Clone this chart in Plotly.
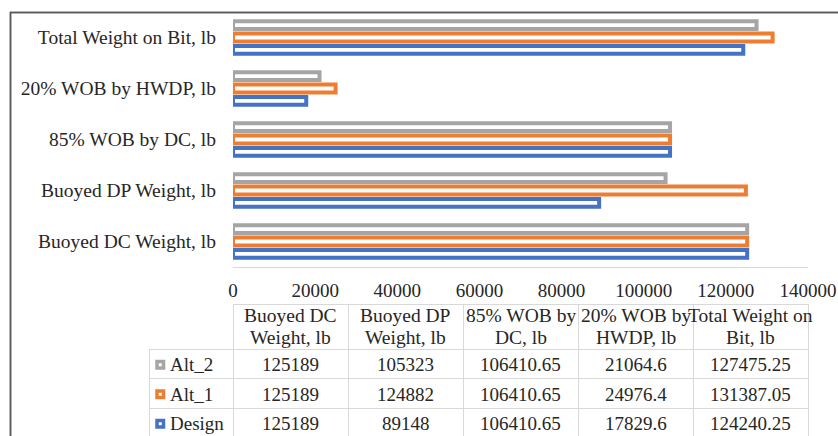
import plotly.graph_objects as go

# ---------------- data ----------------
categories = ["Buoyed DC Weight, lb", "Buoyed DP Weight, lb", "85% WOB by DC, lb",
              "20% WOB by HWDP, lb", "Total Weight on Bit, lb"]
header_line1 = ["Buoyed DC", "Buoyed DP", "85% WOB by", "20% WOB by", "Total Weight on"]
header_line2 = ["Weight, lb", "Weight, lb", "DC, lb", "HWDP, lb", "Bit, lb"]
design = [125189, 89148, 106410.65, 17829.6, 124240.25]
alt_1 = [125189, 124882, 106410.65, 24976.4, 131387.05]
alt_2 = [125189, 105323, 106410.65, 21064.6, 127475.25]
series_names = ["Design", "Alt_1", "Alt_2"]
series_values = [design, alt_1, alt_2]
series_colors = ["#4472C4", "#ED7D31", "#A5A5A5"]
x_tick_values = [0, 20000, 40000, 60000, 80000, 100000, 120000, 140000]

# ---------------- layout constants (px) ----------------
W, H = 838, 436
PLOT_L, PLOT_R, PLOT_T, PLOT_B = 233, 808, 12, 267
FONT = "Liberation Serif, Times New Roman, serif"
TXT = "#262626"
GRID = "#d9d9d9"
FRAME = "#595959"
TBL_TOP, HDR_BOT = 304, 349
ROW_H = 29.5
LEG_L = 149
LABEL_SIZE = 19.5
CELL_SIZE = 19
FRAME_X, FRAME_Y = 10.5, 12.5

def px(x):
    return x / W

def py(y):
    return 1 - y / H

fig = go.Figure()
for name, vals, col in zip(series_names, series_values, series_colors):
    fig.add_trace(go.Bar(
        y=categories, x=vals, name=name, orientation="h",
        marker=dict(color="white", line=dict(color=col, width=4)),
    ))

# outer chart frame drawn on a full-figure pixel overlay (right/bottom edges fall outside)
fig.add_trace(go.Scatter(
    x=[FRAME_X, FRAME_X, W + 20], y=[H + 20, FRAME_Y, FRAME_Y],
    xaxis="x2", yaxis="y2", mode="lines", hoverinfo="skip", showlegend=False,
    line=dict(color=FRAME, width=1.5),
))

shapes = []
annotations = []

# ---------------- data table ----------------
ncol = len(categories)
col_w = (PLOT_R - PLOT_L) / ncol
col_edges = [PLOT_L + i * col_w for i in range(ncol + 1)]
row_edges = [HDR_BOT + i * ROW_H for i in range(len(series_names) + 1)]

for xe in col_edges:
    shapes.append(dict(type="line", xref="paper", yref="paper",
                       x0=px(round(xe) + 0.5), x1=px(round(xe) + 0.5),
                       y0=py(TBL_TOP), y1=py(H + 10), line=dict(color=GRID, width=1)))
shapes.append(dict(type="line", xref="paper", yref="paper",
                   x0=px(LEG_L + 0.5), x1=px(LEG_L + 0.5),
                   y0=py(HDR_BOT), y1=py(H + 10), line=dict(color=GRID, width=1)))
shapes.append(dict(type="line", xref="paper", yref="paper",
                   x0=px(PLOT_L), x1=px(PLOT_R + 1),
                   y0=py(TBL_TOP + 0.5), y1=py(TBL_TOP + 0.5), line=dict(color=GRID, width=1)))
for ye in row_edges:
    shapes.append(dict(type="line", xref="paper", yref="paper",
                       x0=px(LEG_L), x1=px(PLOT_R + 1),
                       y0=py(round(ye) + 0.5), y1=py(round(ye) + 0.5), line=dict(color=GRID, width=1)))

# header text (two lines each)
for i in range(ncol):
    cx = (col_edges[i] + col_edges[i + 1]) / 2
    for txt, yy in ((header_line1[i], TBL_TOP + 11), (header_line2[i], TBL_TOP + 33)):
        annotations.append(dict(xref="paper", yref="paper", x=px(cx), y=py(yy),
                                text=txt, showarrow=False, xanchor="center", yanchor="middle",
                                font=dict(family=FONT, size=LABEL_SIZE, color=TXT)))

def fmt(v):
    return str(v)

row_order = list(reversed(range(len(series_names))))  # Alt_2, Alt_1, Design
for r, si in enumerate(row_order):
    cy = (row_edges[r] + row_edges[r + 1]) / 2 + 1
    shapes.append(dict(type="rect", xref="paper", yref="paper",
                       x0=px(LEG_L + 8), x1=px(LEG_L + 14.5),
                       y0=py(cy - 3.25), y1=py(cy + 3.25),
                       fillcolor="white", line=dict(color=series_colors[si], width=3.5)))
    annotations.append(dict(xref="paper", yref="paper", x=px(LEG_L + 19), y=py(cy),
                            text=series_names[si], showarrow=False, xanchor="left", yanchor="middle",
                            font=dict(family=FONT, size=CELL_SIZE, color=TXT)))
    for i in range(ncol):
        cx = (col_edges[i] + col_edges[i + 1]) / 2
        annotations.append(dict(xref="paper", yref="paper", x=px(cx), y=py(cy),
                                text=fmt(series_values[si][i]), showarrow=False,
                                xanchor="center", yanchor="middle",
                                font=dict(family=FONT, size=CELL_SIZE, color=TXT)))

# also as a shape (same position)
shapes.append(dict(type="rect", xref="paper", yref="paper",
                   x0=px(FRAME_X), x1=1.02, y0=py(FRAME_Y), y1=-0.02,
                   line=dict(color=FRAME, width=1.5), layer="above"))

fig.update_layout(
    width=W, height=H, autosize=False,
    margin=dict(l=0, r=0, t=0, b=0, pad=0, autoexpand=False),
    paper_bgcolor="white", plot_bgcolor="rgba(0,0,0,0)",
    barmode="group", bargap=0.275, bargroupgap=0.36,
    showlegend=False,
    font=dict(family=FONT, size=LABEL_SIZE, color=TXT),
    shapes=shapes, annotations=annotations,
    xaxis=dict(domain=[px(PLOT_L), px(PLOT_R)], range=[0, 140000], automargin=False,
               tickvals=x_tick_values, tickformat="d", showgrid=False, zeroline=False,
               showline=True, linecolor=GRID, linewidth=1, ticks="",
               ticklabelstandoff=6, tickfont=dict(family=FONT, size=CELL_SIZE, color=TXT)),
    yaxis=dict(domain=[py(PLOT_B), py(PLOT_T)], categoryorder="array", categoryarray=categories,
               automargin=False,
               showgrid=False, zeroline=False, showline=False, ticks="",
               ticklabelstandoff=16, tickfont=dict(family=FONT, size=LABEL_SIZE, color=TXT)),
    xaxis2=dict(domain=[0, 1], range=[0, W], anchor="y2", visible=False,
                automargin=False, fixedrange=True),
    yaxis2=dict(domain=[0, 1], range=[H, 0], anchor="x2", visible=False,
                automargin=False, fixedrange=True),
)

post = ("document.body.style.margin='0';document.body.style.padding='0';"
        "document.body.style.overflow='hidden';"
        "document.documentElement.style.overflow='hidden';")

fig.write_html("out.html", config={"responsive": False, "displayModeBar": False},
               post_script=post)
